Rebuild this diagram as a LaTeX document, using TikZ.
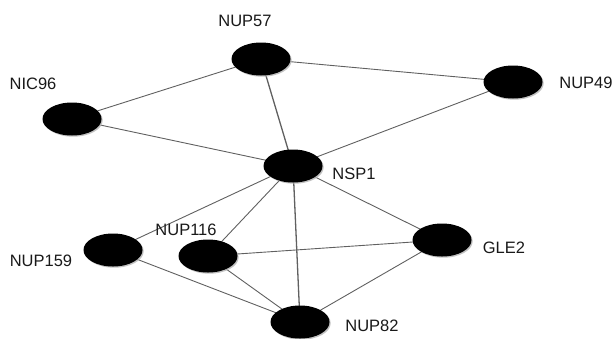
\documentclass[tikz,border=0pt]{standalone}
\usepackage{fontspec}
\setmainfont{Liberation Sans}
\usetikzlibrary{shapes.geometric,shadows,backgrounds}
\begin{document}
\begin{tikzpicture}[x=1pt,y=-1pt,
  prot/.style={ellipse,fill=black,minimum width=59pt,minimum height=33pt,inner sep=0pt,
    drop shadow={shadow xshift=1.2pt,shadow yshift=-1.2pt,fill=gray!60,opacity=0.8}},
  lbl/.style={font=\fontsize{16.5}{18}\selectfont,inner sep=0pt,text=black!90},
  link/.style={draw=gray!75!black,line width=0.9pt}]
\useasboundingbox (0,0) rectangle (615,338);
\node[prot] (nup57) at (261,59) {};
\node[prot] (nic96) at (72,119) {};
\node[prot] (nup49) at (513,82) {};
\node[prot] (nsp1) at (293,166) {};
\node[prot] (nup159) at (113,250) {};
\node[prot] (nup116) at (208,256) {};
\node[prot] (gle2) at (442,240) {};
\node[prot] (nup82) at (300,322) {};
\node[lbl] (l57) at (245,21) {NUP57};
\node[lbl] (l96) at (33,84) {NIC96};
\node[lbl] (l49) at (586,83) {NUP49};
\node[lbl] (lsp1) at (354,174) {NSP1};
\node[lbl] (l159) at (41,261) {NUP159};
\node[lbl] (l116) at (186,230) {NUP116};
\node[lbl] (lgle) at (504,248) {GLE2};
\node[lbl] (l82) at (372,326) {NUP82};
\begin{pgfonlayer}{background}
\draw[link] (nup57.center) -- (nic96.center);
\draw[link] (nup57.center) -- (nup49.center);
\draw[link,line width=1.3pt] (nup57.center) -- (nsp1.center);
\draw[link] (nic96.center) -- (nsp1.center);
\draw[link] (nup49.center) -- (nsp1.center);
\draw[link] (nsp1.center) -- (nup159.center);
\draw[link] (nsp1.center) -- (nup116.center);
\draw[link,line width=1.3pt] (nsp1.center) -- (nup82.center);
\draw[link] (nsp1.center) -- (gle2.center);
\draw[link] (nup159.center) -- (nup82.center);
\draw[link] (nup116.center) -- (nup82.center);
\draw[link] (nup116.center) -- (gle2.center);
\draw[link] (gle2.center) -- (nup82.center);
\end{pgfonlayer}
\end{tikzpicture}
\end{document}
